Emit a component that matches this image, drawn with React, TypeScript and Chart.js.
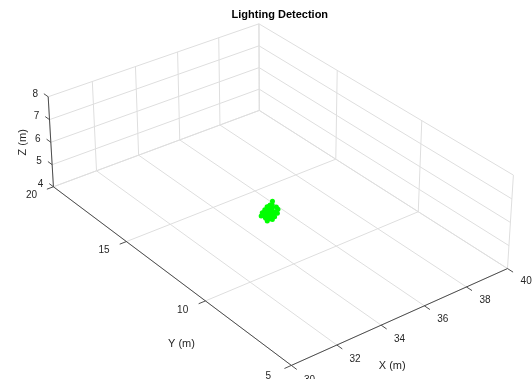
import React, { useEffect, useRef } from "react";
import { Chart, registerables } from "chart.js";

Chart.register(...registerables);

// ---- axis data ----
const X_RANGE = [30, 40];
const Y_RANGE = [5, 20];
const Z_RANGE = [4, 8];
const X_TICKS = [30, 32, 34, 36, 38, 40];
const Y_TICKS = [5, 10, 15, 20];
const Z_TICKS = [4, 5, 6, 7, 8];
const TITLE = "Lighting Detection";
const X_LABEL = "X (m)";
const Y_LABEL = "Y (m)";
const Z_LABEL = "Z (m)";

// ---- detected point cloud (metres) ----
const CLOUD_X = [
  34.96, 35.07, 35.21, 35.35, 35.4, 35.0, 35.14, 35.28, 35.39, 34.97, 35.1, 35.24,
  34.95, 35.09, 35.23, 35.38, 35.42, 34.99, 35.16, 35.31, 35.4, 34.96, 35.11, 35.25,
  34.97, 35.1, 35.24, 35.37, 35.4, 35.01, 35.17, 35.29, 35.38, 34.99, 35.13, 35.27,
  35.22, 35.3, 34.92, 35.18, 35.2, 35.1,
];
const CLOUD_Y = [
  12.86, 12.9, 12.87, 12.91, 13.04, 13.04, 13.11, 13.18, 13.28, 13.25, 13.3, 13.32,
  12.78, 12.74, 12.81, 12.78, 12.98, 12.97, 12.99, 13.05, 13.19, 13.17, 13.22, 13.19,
  12.67, 12.7, 12.66, 12.73, 12.87, 12.85, 12.94, 12.99, 13.1, 13.05, 13.09, 13.13,
  13.02, 12.98, 12.9, 13.0, 12.9, 13.1,
];
const CLOUD_Z = [
  4.08, 4.11, 4.05, 4.1, 4.08, 4.15, 4.09, 4.13, 4.06, 4.11, 4.08, 4.1,
  4.28, 4.3, 4.25, 4.31, 4.26, 4.34, 4.29, 4.33, 4.28, 4.3, 4.26, 4.34,
  4.49, 4.52, 4.48, 4.51, 4.54, 4.5, 4.55, 4.49, 4.52, 4.48, 4.54, 4.5,
  4.62, 4.78, 4.2, 4.2, 4.4, 4.4,
];

// ---- camera (perspective) ----
const VIEW_AZ = 37.5;
const VIEW_EL = 31;
const VIEW_DIST = 85;
const SCREEN_X_MIN = -10.03;
const SCREEN_X_MAX = 9.444;
const SCREEN_Y_MIN = -7.247;
const SCREEN_Y_MAX = 6.625;

const FONT = '"Liberation Sans", Arial, Helvetica, sans-serif';
const GRID_COLOR = "#dedede";
const AXIS_COLOR = "#3c3c3c";
const TEXT_COLOR = "#262626";

const deg = Math.PI / 180;
const sa = Math.sin(VIEW_AZ * deg);
const ca = Math.cos(VIEW_AZ * deg);
const se = Math.sin(VIEW_EL * deg);
const ce = Math.cos(VIEW_EL * deg);
const cx0 = (X_RANGE[0] + X_RANGE[1]) / 2;
const cy0 = (Y_RANGE[0] + Y_RANGE[1]) / 2;
const cz0 = (Z_RANGE[0] + Z_RANGE[1]) / 2;

function project(x: number, y: number, z: number) {
  const dx = x - cx0;
  const dy = y - cy0;
  const dz = z - cz0;
  const R = ca * dx - sa * dy;
  const H = sa * dx + ca * dy;
  const U = se * H + ce * dz;
  const W = ce * H - se * dz;
  const k = VIEW_DIST / (VIEW_DIST + W);
  return { x: R * k, y: U * k };
}

type P3 = [number, number, number];
const GAP = { x: NaN, y: NaN };

function segmentsToData(segs: [P3, P3][]) {
  const out: { x: number; y: number }[] = [];
  segs.forEach(([a, b]) => {
    out.push(project(a[0], a[1], a[2]));
    out.push(project(b[0], b[1], b[2]));
    out.push(GAP);
  });
  return out;
}

function buildGrid() {
  const [x0, x1] = X_RANGE;
  const [y0, y1] = Y_RANGE;
  const [z0, z1] = Z_RANGE;
  const segs: [P3, P3][] = [];
  X_TICKS.forEach((x) => segs.push([[x, y0, z0], [x, y1, z0]]));
  Y_TICKS.forEach((y) => segs.push([[x0, y, z0], [x1, y, z0]]));
  X_TICKS.forEach((x) => segs.push([[x, y1, z0], [x, y1, z1]]));
  Z_TICKS.forEach((z) => segs.push([[x0, y1, z], [x1, y1, z]]));
  Y_TICKS.forEach((y) => segs.push([[x1, y, z0], [x1, y, z1]]));
  Z_TICKS.forEach((z) => segs.push([[x1, y0, z], [x1, y1, z]]));
  return segmentsToData(segs);
}

const TICK_LEN = 0.3;

function buildAxes() {
  const [x0, x1] = X_RANGE;
  const [y0, y1] = Y_RANGE;
  const [z0, z1] = Z_RANGE;
  const segs: [P3, P3][] = [
    [[x0, y0, z0], [x1, y0, z0]],
    [[x0, y0, z0], [x0, y1, z0]],
    [[x0, y1, z0], [x0, y1, z1]],
  ];
  X_TICKS.forEach((x) => segs.push([[x, y0, z0], [x, y0 - TICK_LEN, z0]]));
  Y_TICKS.forEach((y) => segs.push([[x0, y, z0], [x0 - TICK_LEN, y, z0]]));
  Z_TICKS.forEach((z) => segs.push([[x0, y1, z], [x0, y1 + TICK_LEN, z]]));
  return segmentsToData(segs);
}

function buildCloud() {
  return CLOUD_X.map((x, i) => project(x, CLOUD_Y[i], CLOUD_Z[i]));
}

const labelPlugin = {
  id: "labels3d",
  afterDatasetsDraw(chart: any) {
    const ctx = chart.ctx as CanvasRenderingContext2D;
    const sx = chart.scales.x;
    const sy = chart.scales.y;
    const px = (x: number, y: number, z: number) => {
      const p = project(x, y, z);
      return { x: sx.getPixelForValue(p.x), y: sy.getPixelForValue(p.y) };
    };
    const [x0] = X_RANGE;
    const [y0, y1] = Y_RANGE;
    const [z0] = Z_RANGE;
    ctx.save();
    ctx.fillStyle = TEXT_COLOR;
    ctx.font = `10px ${FONT}`;
    ctx.textAlign = "center";
    ctx.textBaseline = "middle";
    X_TICKS.forEach((x) => {
      const p = px(x, y0 - 1.0, z0 - 0.05);
      ctx.fillText(String(x), p.x, p.y);
    });
    Y_TICKS.forEach((y) => {
      const p = px(x0 - 1.0, y, z0);
      ctx.fillText(String(y), p.x, p.y);
    });
    Z_TICKS.forEach((z) => {
      const p = px(x0, y1, z);
      ctx.fillText(String(z), p.x - 13, p.y - 3);
    });
    ctx.font = `11px ${FONT}`;
    const xl = px(33.5, y0, z0);
    ctx.fillText(X_LABEL, xl.x + 22, xl.y + 36);
    const yl = px(x0, 10, z0);
    ctx.fillText(Y_LABEL, yl.x - 24, yl.y + 43);
    const zl = px(x0, y1, 6);
    ctx.save();
    ctx.translate(zl.x - 28, zl.y);
    ctx.rotate(-Math.PI / 2);
    ctx.fillText(Z_LABEL, 0, 0);
    ctx.restore();
    ctx.font = `bold 11px ${FONT}`;
    ctx.fillStyle = "#000000";
    ctx.fillText(TITLE, sx.getPixelForValue(0.22), 15);
    ctx.restore();
  },
};

export default function App() {
  const ref = useRef<HTMLCanvasElement | null>(null);
  useEffect(() => {
    document.body.style.margin = "0";
    const canvas = ref.current;
    if (!canvas) return;
    const chart = new Chart(canvas, {
      type: "scatter",
      data: {
        datasets: [
          {
            label: "cloud",
            data: buildCloud(),
            pointRadius: 2.5,
            pointBackgroundColor: "#00ff00",
            pointBorderWidth: 0,
            showLine: false,
            order: 0,
          },
          {
            label: "axes",
            data: buildAxes(),
            showLine: true,
            borderColor: AXIS_COLOR,
            borderWidth: 0.9,
            pointRadius: 0,
            spanGaps: false,
            order: 1,
          },
          {
            label: "grid",
            data: buildGrid(),
            showLine: true,
            borderColor: GRID_COLOR,
            borderWidth: 1,
            pointRadius: 0,
            spanGaps: false,
            order: 2,
          },
        ],
      } as any,
      options: {
        animation: false,
        responsive: false,
        maintainAspectRatio: false,
        devicePixelRatio: 1,
        events: [],
        layout: { padding: 0 },
        plugins: {
          legend: { display: false },
          tooltip: { enabled: false },
          title: { display: false },
        },
        scales: {
          x: { type: "linear", display: false, min: SCREEN_X_MIN, max: SCREEN_X_MAX },
          y: { type: "linear", display: false, min: SCREEN_Y_MIN, max: SCREEN_Y_MAX },
        },
      } as any,
      plugins: [labelPlugin],
    });
    return () => chart.destroy();
  }, []);
  return (
    <div style={{ width: 532, height: 379, background: "#ffffff" }}>
      <canvas ref={ref} width={532} height={379} style={{ display: "block" }} />
    </div>
  );
}
